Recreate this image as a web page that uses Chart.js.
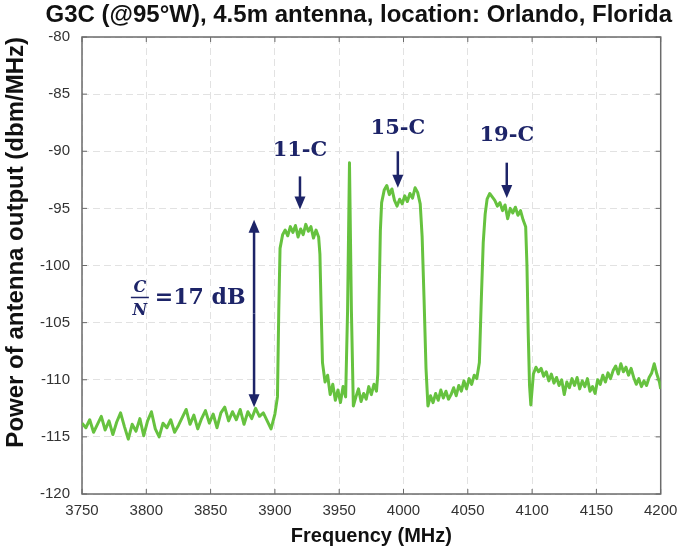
<!DOCTYPE html>
<html>
<head>
<meta charset="utf-8">
<script src="https://cdn.jsdelivr.net/npm/chart.js@4.4.0/dist/chart.umd.min.js"></script>
<style>
  html, body { margin: 0; padding: 0; background: #fff; }
</style>
</head>
<body>
<canvas id="chart" width="678" height="554"></canvas>
<script>
// spectrum trace (MHz, dBm/MHz)
const freqs = [
  3750, 3753, 3756, 3759, 3762, 3765, 3768, 3771, 3774, 3777,
  3780, 3783, 3786, 3789, 3792, 3795, 3798, 3801, 3804, 3807,
  3810, 3813, 3816, 3819, 3822, 3825, 3828, 3831, 3834, 3837,
  3840, 3843, 3846, 3849, 3852, 3855, 3858, 3861, 3864, 3867,
  3870, 3873, 3876, 3879, 3882, 3885, 3888, 3891, 3894, 3897,
  3900,
  3902, 3903, 3904, 3906, 3908, 3910, 3912, 3914, 3916, 3918,
  3920, 3922, 3924, 3926, 3928, 3930, 3932, 3934, 3935, 3936,
  3937, 3939,
  3941, 3943, 3945, 3947, 3949, 3951, 3953, 3955, 3956.5, 3958,
  3959.5, 3961,
  3963, 3965, 3967, 3969, 3971, 3973, 3975, 3977, 3979, 3980,
  3981, 3982, 3983,
  3985, 3987, 3989, 3991, 3993, 3995, 3997, 3999, 4001, 4003,
  4005, 4007, 4009, 4011, 4013, 4014.5, 4016, 4017.5, 4019,
  4021, 4023, 4025, 4027, 4029, 4031, 4033, 4035, 4037, 4039,
  4041, 4043, 4045, 4047, 4049, 4051, 4053, 4055, 4057, 4059,
  4060.5, 4062, 4063.5,
  4065, 4067, 4069, 4071, 4073, 4075, 4077, 4079, 4081, 4083,
  4085, 4087, 4089, 4091, 4093, 4095, 4096, 4097, 4098, 4099,
  4101, 4103, 4105, 4107, 4109, 4111, 4113, 4115, 4117, 4119,
  4121, 4123, 4125, 4127, 4129, 4131, 4133, 4135, 4137, 4139,
  4141, 4143, 4145, 4147, 4149, 4151, 4153, 4155, 4157, 4159,
  4161, 4163, 4165, 4167, 4169, 4171, 4173, 4175, 4177, 4179,
  4181, 4183, 4185, 4187, 4189, 4191, 4193, 4195, 4197, 4199,
  4200
];
const power = [
  -113.8, -114.2, -113.5, -114.6, -113.9, -113.2, -114.4, -113.6, -114.8, -113.7,
  -112.9, -114.1, -115.2, -113.9, -114.5, -113.4, -114.9, -113.6, -112.8, -114.3,
  -115.0, -113.8, -114.2, -113.5, -114.6, -114.0, -113.3, -112.6, -113.9, -113.1,
  -114.3, -113.4, -112.7, -113.8, -113.0, -114.2, -112.9, -112.4, -113.6, -112.8,
  -113.5, -112.6, -113.9, -112.8, -113.4, -112.5, -113.2, -112.9, -113.6, -114.3,
  -113.0,
  -111.5, -104, -98.5, -97.3, -96.9, -97.4, -96.6, -97.1, -96.5, -97.5,
  -96.8, -97.3, -96.4, -97.0, -96.6, -97.6, -96.9, -97.5, -99, -104,
  -108.5, -110.2,
  -109.6, -111.3, -110.4, -111.8, -110.9, -112.0, -110.6, -111.5, -104, -91.0,
  -104, -112.3,
  -111.5, -110.8, -111.9, -111.2, -111.7, -110.6, -111.3, -110.4, -111.0, -109.5,
  -103, -97, -94.5,
  -93.4, -93.0, -93.8, -93.3, -94.3, -94.8, -94.2, -94.6, -93.9, -94.4,
  -93.7, -94.1, -93.2, -93.6, -94.6, -97.5, -103, -109, -112.3,
  -111.4, -112.0, -111.2, -111.8, -110.9, -111.6, -111.0, -111.7, -111.3, -110.7,
  -111.4, -110.5, -111.0, -110.1, -110.8, -109.9, -110.4, -109.6, -109.9, -108.5,
  -103, -98, -95.5,
  -94.2, -93.7, -94.0, -94.3, -94.8, -94.5, -95.2, -94.7, -95.9, -95.0,
  -95.4, -94.9, -95.6, -95.2, -96.0, -96.6, -100, -106, -110.5, -112.2,
  -109.5, -108.9, -109.3, -109.0, -109.7, -109.3, -110.1, -109.5, -110.3, -109.8,
  -110.5, -110.0, -111.3, -110.2, -110.7, -109.9, -110.5, -109.8, -110.8, -110.1,
  -110.6, -109.9, -111.0, -110.6, -111.2, -110.0, -110.4, -109.6, -110.2, -109.4,
  -109.9, -109.2, -108.8, -109.5, -108.6, -109.3, -108.9, -109.6, -109.0, -109.8,
  -110.4, -109.9, -110.6, -110.1, -110.5, -109.8, -109.4, -108.6, -109.5, -110.2,
  -110.8
];

// carrier labels with their arrows (x in MHz, y in dB)
const channelLabels = ["11-C", "15-C", "19-C"];
const channelFreqs = [3919.5, 3995.6, 4080.3];
const labelLevels = [-89.9, -88.0, -88.6];
const arrowTops = [-92.2, -90.0, -91.0];
const arrowTips = [-95.1, -93.2, -94.1];

// C/N double arrow
const cnFreq = 3883.8;
const cnTop = -96.0;
const cnBottom = -112.4;
const cnText = "=17 dB";
const cnTextFreq = 3795;
const cnTextLevel = -102.8;

const GREEN = "#66c23f";
const NAVY = "#1d2468";
const AXIS = "#6b6b6b";
const SANS = "'Liberation Sans', Arial, sans-serif";
const SERIF = "'DejaVu Serif', 'Liberation Serif', serif";

function arrow(ctx, x, yFrom, yTo)
{
  const dir = yTo > yFrom ? 1 : -1;
  ctx.beginPath();
  ctx.moveTo(x, yFrom);
  ctx.lineTo(x, yTo - dir * 10);
  ctx.stroke();
  ctx.beginPath();
  ctx.moveTo(x, yTo);
  ctx.lineTo(x - 5.5, yTo - dir * 13);
  ctx.lineTo(x + 5.5, yTo - dir * 13);
  ctx.closePath();
  ctx.fill();
}

const framePlugin = {
  id: "frame",
  beforeDatasetsDraw(chart)
  {
    const {ctx, chartArea: a, scales} = chart;
    ctx.save();
    ctx.strokeStyle = AXIS;
    ctx.lineWidth = 1.5;
    ctx.strokeRect(a.left, a.top, a.right - a.left, a.bottom - a.top);
    ctx.lineWidth = 1;
    ctx.beginPath();
    scales.x.ticks.forEach(t =>
    {
      const x = scales.x.getPixelForValue(t.value);
      ctx.moveTo(x, a.bottom); ctx.lineTo(x, a.bottom - 5);
      ctx.moveTo(x, a.top); ctx.lineTo(x, a.top + 5);
    });
    scales.y.ticks.forEach(t =>
    {
      const y = scales.y.getPixelForValue(t.value);
      ctx.moveTo(a.left, y); ctx.lineTo(a.left + 5, y);
      ctx.moveTo(a.right, y); ctx.lineTo(a.right - 5, y);
    });
    ctx.stroke();
    ctx.restore();
  },
  afterDatasetsDraw(chart)
  {
    const {ctx, scales} = chart;
    const px = v => scales.x.getPixelForValue(v);
    const py = v => scales.y.getPixelForValue(v);
    ctx.save();
    ctx.strokeStyle = NAVY;
    ctx.fillStyle = NAVY;
    ctx.lineWidth = 2.5;

    channelLabels.forEach((label, i) =>
    {
      const x = px(channelFreqs[i]);
      arrow(ctx, x, py(arrowTops[i]), py(arrowTips[i]));
      ctx.font = "bold 21px " + SERIF;
      ctx.textAlign = "center";
      ctx.textBaseline = "middle";
      ctx.fillText(label, x, py(labelLevels[i]));
    });

    // C/N double arrow
    const cx = px(cnFreq);
    const mid = (py(cnTop) + py(cnBottom)) / 2;
    arrow(ctx, cx, mid, py(cnTop));
    arrow(ctx, cx, mid, py(cnBottom));

    const fx = px(cnTextFreq);
    const fy = py(cnTextLevel);
    ctx.font = "italic bold 16px " + SERIF;
    ctx.textAlign = "center";
    ctx.textBaseline = "alphabetic";
    ctx.fillText("C", fx, fy - 5);
    ctx.textBaseline = "top";
    ctx.fillText("N", fx, fy + 5);
    ctx.lineWidth = 1.5;
    ctx.beginPath();
    ctx.moveTo(fx - 9, fy);
    ctx.lineTo(fx + 9, fy);
    ctx.stroke();
    ctx.font = "bold 22px " + SERIF;
    ctx.textAlign = "left";
    ctx.textBaseline = "middle";
    ctx.fillText(cnText, fx + 15, fy + 1);
    ctx.restore();
  }
};

const el = document.getElementById("chart");
const chart = new Chart(el, {
  type: "line",
  data: {
    datasets: [{
      data: freqs.map((f, i) => ({x: f, y: power[i]})),
      borderColor: GREEN,
      borderWidth: 3,
      pointRadius: 0,
      tension: 0,
      borderJoinStyle: "round",
    }],
  },
  plugins: [framePlugin],
  options: {
    responsive: false,
    animation: false,
    devicePixelRatio: 1,
    layout: {padding: {left: 0, right: 6, top: 0, bottom: 0}},
    plugins: {
      legend: {display: false},
      tooltip: {enabled: false},
      title: {
        display: true,
        align: "end",
        text: "G3C (@95°W), 4.5m antenna, location: Orlando, Florida",
        color: "#111",
        font: {family: SANS, size: 24, weight: "bold"},
        padding: {top: 1, bottom: 7.2},
      },
    },
    scales: {
      x: {
        type: "linear",
        min: 3750,
        max: 4200,
        ticks: {
          stepSize: 50,
          padding: 8,
          color: "#333",
          font: {family: SANS, size: 15},
          maxRotation: 0,
          callback: v => String(v),
        },
        grid: {color: "#e2e2e2", drawTicks: false},
        border: {display: false, dash: [7, 4]},
        title: {
          display: true,
          text: "Frequency (MHz)",
          color: "#111",
          font: {family: SANS, size: 20, weight: "bold"},
          padding: {top: 0, bottom: 6},
        },
        afterFit(s) { s.height = 60; s.paddingLeft = 0; s.paddingRight = 17.3; },
      },
      y: {
        min: -120,
        max: -80,
        ticks: {
          stepSize: 5,
          padding: 12,
          color: "#333",
          font: {family: SANS, size: 15},
          callback: v => String(v),
        },
        grid: {color: "#e2e2e2", drawTicks: false},
        border: {display: false, dash: [7, 4]},
        title: {
          display: true,
          align: "end",
          text: "Power of antenna output (dbm/MHz)",
          color: "#111",
          font: {family: SANS, size: 24, weight: "bold"},
          padding: {top: 2, bottom: 0},
        },
        afterFit(s) { s.width = 82; s.paddingTop = 0; s.paddingBottom = 0; },
      },
    },
  },
});
</script>
</body>
</html>
